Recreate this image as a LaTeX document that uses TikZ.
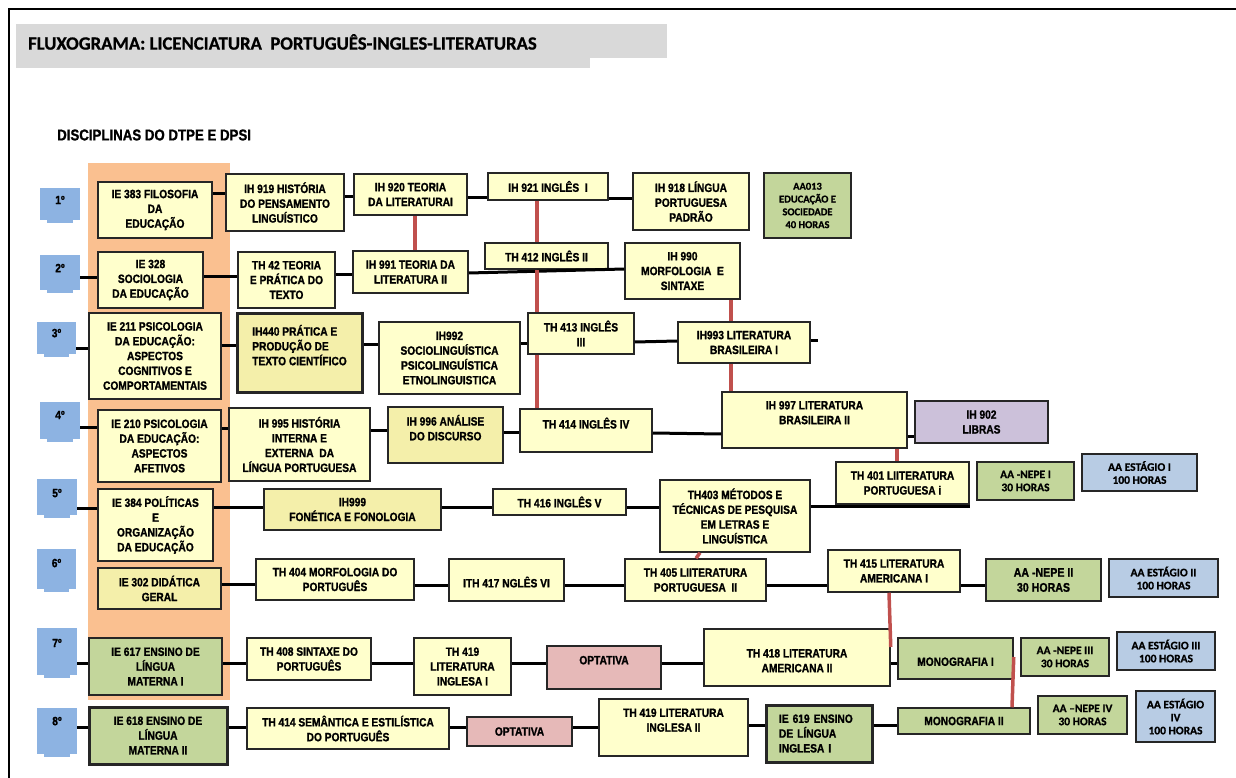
\documentclass[tikz,border=0pt]{standalone}
\usepackage{fontspec}
\setmainfont{Liberation Sans}[FakeStretch=0.85,BoldFeatures={FakeBold=1.2}]
\newfontfamily\calfont{Carlito}[BoldFeatures={FakeBold=0.8}]
\definecolor{amarelo}{HTML}{FFFFCC}
\definecolor{amarelod}{HTML}{F4EFAA}
\definecolor{verde}{HTML}{C3D69B}
\definecolor{azul}{HTML}{B8CCE4}
\definecolor{azulsem}{HTML}{8DB3E2}
\definecolor{laranja}{HTML}{FAC090}
\definecolor{rosa}{HTML}{E6B9B8}
\definecolor{lilas}{HTML}{CCC1DA}
\definecolor{vermelho}{HTML}{C0504D}
\definecolor{cinza}{HTML}{D9D9D9}
\definecolor{borda}{HTML}{262626}
\begin{document}
\begin{tikzpicture}[x=1pt,y=-1pt]
	\tikzstyle{every node}+=[inner sep=0pt,align=center,font=\fontsize{12}{14.8}\selectfont\bfseries]
	\tikzstyle{disc}=[draw=borda,line width=1.5pt,fill=amarelo]
	\tikzstyle{discd}=[disc,fill=amarelod]
	\tikzstyle{grosso}=[line width=3pt]
	\tikzstyle{aa}=[draw=borda,line width=1.5pt,font=\calfont\fontsize{11.5}{13}\selectfont\bfseries]
	\tikzstyle{sem}=[fill=azulsem]
	\tikzstyle{lig}=[line width=3pt]
	\tikzstyle{pre}=[line width=3.5pt,draw=vermelho]
	\useasboundingbox (0,0) rectangle (1236,778);
	\fill [cinza] (16,24) rectangle (667,58);
	\fill [cinza] (16,58) rectangle (590,68);
	\draw [line width=2pt] (9,778) -- (9,9) -- (1236,9);
	\node [anchor=west,font=\calfont\fontsize{18.7}{20}\selectfont\bfseries] (titulo) at (28,42) {FLUXOGRAMA: LICENCIATURA~ PORTUGUÊS-INGLES-LITERATURAS};
	\node [anchor=west,font=\fontsize{15.6}{18}\selectfont\bfseries] (dtpe) at (57,135) {DISCIPLINAS DO DTPE E DPSI};
	\fill [laranja] (88,163) rectangle (230,700);
	\node [sem,minimum width=40,minimum height=32,text depth=8] (s1) at (60,204) {1º};
	\node [sem,minimum width=40,minimum height=35,text depth=9] (s2) at (60,272.5) {2º};
	\node [sem,minimum width=39,minimum height=32,text depth=10] (s3) at (56.5,338) {3º};
	\node [sem,minimum width=40,minimum height=37,text depth=11] (s4) at (60,420.5) {4º};
	\node [sem,minimum width=40,minimum height=36,text depth=8] (s5) at (57,497) {5º};
	\node [sem,minimum width=39,minimum height=40,text depth=12] (s6) at (56.5,569) {6º};
	\node [sem,minimum width=40,minimum height=47,text depth=17] (s7) at (57,651.5) {7º};
	\node [sem,minimum width=40,minimum height=46,text depth=20] (s8) at (57,731) {8º};
	\foreach \i in {1,...,8}
		\fill [azulsem] ([xshift=7pt]s\i.south west) rectangle ([xshift=-7pt,yshift=-3pt]s\i.south east);
	\node [disc,minimum width=114,minimum height=56] (ie383) at (155,210) {IE 383 FILOSOFIA\\DA\\EDUCAÇÃO};
	\node [disc,minimum width=118,minimum height=57] (ih919) at (285,202.5) {IH 919 HISTÓRIA\\DO PENSAMENTO\\LINGUÍSTICO};
	\node [disc,minimum width=113,minimum height=41] (ih920) at (410.5,194.5) {IH 920 TEORIA\\DA LITERATURAI};
	\node [disc,minimum width=120,minimum height=27] (ih921) at (548,186.5) {IH 921 INGLÊS~ I};
	\node [disc,minimum width=116,minimum height=57] (ih918) at (691,201.5) {IH 918 LÍNGUA\\PORTUGUESA\\PADRÃO};
	\node [aa,fill=verde,minimum width=87,minimum height=65,font=\calfont\fontsize{10.5}{12.8}\selectfont\bfseries] (aa013) at (807.5,205.5) {AA013\\EDUCAÇÃO E\\SOCIEDADE\\40 HORAS};
	\node [disc,minimum width=105,minimum height=56] (ie328) at (150.5,280) {IE 328\\SOCIOLOGIA\\DA EDUCAÇÃO};
	\node [disc,minimum width=97,minimum height=56] (th42) at (286.5,280) {TH 42 TEORIA\\E PRÁTICA DO\\TEXTO};
	\node [disc,minimum width=115,minimum height=42] (ih991) at (410.5,272) {IH 991 TEORIA DA\\LITERATURA II};
	\node [disc,minimum width=123,minimum height=26] (th412) at (546.5,256) {TH 412 INGLÊS II};
	\node [disc,minimum width=115,minimum height=56] (ih990) at (682.5,271) {IH 990\\MORFOLOGIA~ E\\SINTAXE};
	\node [disc,minimum width=132,minimum height=86] (ie211) at (155,356) {IE 211 PSICOLOGIA\\DA EDUCAÇÃO:\\ASPECTOS\\COGNITIVOS E\\COMPORTAMENTAIS};
	\node [discd,grosso,align=left,minimum width=125,minimum height=79] (ih440) at (299.5,352.5) {IH440 PRÁTICA E\\PRODUÇÃO DE\\TEXTO CIENTÍFICO\\\mbox{}};
	\node [disc,minimum width=141,minimum height=72] (ih992) at (449.5,358) {IH992\\SOCIOLINGUÍSTICA\\PSICOLINGUÍSTICA\\ETNOLINGUISTICA};
	\node [disc,minimum width=106,minimum height=41] (th413) at (581,333.5) {TH 413 INGLÊS\\III};
	\node [disc,minimum width=132,minimum height=41] (ih993) at (744,342.5) {IH993 LITERATURA\\BRASILEIRA I};
	\node [disc,minimum width=123,minimum height=72] (ie210) at (159.5,446) {IE 210 PSICOLOGIA\\DA EDUCAÇÃO:\\ASPECTOS\\AFETIVOS};
	\node [disc,minimum width=141,minimum height=73] (ih995) at (299.5,444.5) {IH 995 HISTÓRIA\\INTERNA E\\EXTERNA~ DA\\LÍNGUA PORTUGUESA};
	\node [discd,minimum width=115,minimum height=56] (ih996) at (445.5,435) {IH 996 ANÁLISE\\DO DISCURSO\\\mbox{}};
	\node [disc,minimum width=132,minimum height=43] (th414) at (586,430.5) {TH 414 INGLÊS IV\\\mbox{}};
	\node [disc,minimum width=185,minimum height=56] (ih997) at (814.5,420) {IH 997 LITERATURA\\BRASILEIRA II\\\mbox{}};
	\node [disc,fill=lilas,minimum width=133,minimum height=42] (ih902) at (981.5,422) {IH 902\\LIBRAS};
	\node [disc,minimum width=115,minimum height=72] (ie384) at (155.5,525) {IE 384 POLÍTICAS\\E\\ORGANIZAÇÃO\\DA EDUCAÇÃO};
	\node [discd,minimum width=177,minimum height=41] (ih999) at (352.5,509.5) {IH999\\FONÉTICA E FONOLOGIA};
	\node [disc,minimum width=133,minimum height=26] (th416) at (559.5,502) {TH 416 INGLÊS V};
	\node [disc,minimum width=150,minimum height=72] (th403) at (735,516) {TH403 MÉTODOS E\\TÉCNICAS DE PESQUISA\\EM LETRAS E\\LINGUÍSTICA};
	\node [disc,minimum width=133,minimum height=42] (th401) at (902.5,483) {TH 401 LIITERATURA\\PORTUGUESA i};
	\node [aa,fill=verde,minimum width=97,minimum height=38] (nepe1) at (1025.5,481) {AA -NEPE I\\30 HORAS};
	\node [aa,fill=azul,minimum width=115,minimum height=37] (est1) at (1139.5,472.5) {AA ESTÁGIO I\\100 HORAS};
	\node [discd,minimum width=123,minimum height=41] (ie302) at (159.5,588.5) {IE 302 DIDÁTICA\\GERAL};
	\node [disc,minimum width=158,minimum height=41] (th404) at (335,579.5) {TH 404 MORFOLOGIA DO\\PORTUGUÊS};
	\node [disc,minimum width=115,minimum height=42] (ith417) at (506.5,580) {\mbox{}\\ITH 417 NGLÊS VI};
	\node [disc,minimum width=141,minimum height=42] (th405) at (695.5,580) {TH 405 LIITERATURA\\PORTUGUESA~ II};
	\node [disc,minimum width=132,minimum height=42] (th415) at (894,571) {TH 415 LITERATURA\\AMERICANA I};
	\node [aa,fill=verde,minimum width=115,minimum height=42,font=\fontsize{12.5}{15}\selectfont\bfseries] (nepe2) at (1043.5,580) {AA -NEPE II\\30 HORAS};
	\node [aa,fill=azul,minimum width=109,minimum height=38] (est2) at (1163.5,578) {AA ESTÁGIO II\\100 HORAS};
	\node [disc,fill=verde,minimum width=133,minimum height=57] (ie617) at (155.5,666.5) {IE 617 ENSINO DE\\LÍNGUA\\MATERNA I};
	\node [disc,minimum width=124,minimum height=42] (th408) at (309,659) {TH 408 SINTAXE DO\\PORTUGUÊS};
	\node [disc,minimum width=97,minimum height=57] (th419) at (462.5,666.5) {TH 419\\LITERATURA\\INGLESA I};
	\node [disc,fill=rosa,minimum width=114,minimum height=43] (opt1) at (604,667.5) {OPTATIVA\\\mbox{}};
	\node [disc,minimum width=186,minimum height=57] (th418) at (797,657.5) {\mbox{}\\TH 418 LITERATURA\\AMERICANA II};
	\node [disc,fill=verde,minimum width=115,minimum height=41] (mono1) at (955.5,658.5) {\mbox{}\\MONOGRAFIA I};
	\node [aa,fill=verde,minimum width=88,minimum height=38] (nepe3) at (1065,657) {AA -NEPE III\\30 HORAS};
	\node [aa,fill=azul,minimum width=98,minimum height=38] (est3) at (1166,651) {AA ESTÁGIO III\\100 HORAS};
	\node [disc,grosso,fill=verde,minimum width=138,minimum height=57] (ie618) at (158,735.5) {IE 618 ENSINO DE\\LÍNGUA\\MATERNA II};
	\node [disc,minimum width=202,minimum height=41] (th414s) at (348,728.5) {TH 414 SEMÂNTICA E ESTILÍSTICA\\DO PORTUGUÊS};
	\node [disc,fill=rosa,minimum width=105,minimum height=29] (opt2) at (519.5,731.5) {OPTATIVA};
	\node [disc,minimum width=149,minimum height=57] (th419ii) at (673.5,727.5) {TH 419 LITERATURA\\INGLESA II\\\mbox{}};
	\node [disc,grosso,fill=verde,align=left,text width=80,minimum width=106,minimum height=57] (ie619) at (819,733.5) {IE 619 ENSINO\\DE LÍNGUA\\INGLESA I};
	\node [disc,fill=verde,minimum width=132,minimum height=26] (mono2) at (964,721) {MONOGRAFIA II};
	\node [aa,fill=verde,minimum width=89,minimum height=38] (nepe4) at (1082.5,715) {AA –NEPE IV\\30 HORAS};
	\node [aa,fill=azul,minimum width=79,minimum height=51] (est4) at (1175.5,716.5) {AA ESTÁGIO\\IV\\100 HORAS};
	\draw [lig] (ie383.east |- 0,194) -- (ih919.west |- 0,194);
	\draw [lig] (ih919.east |- 0,197) -- (ih920.west |- 0,197);
	\draw [lig] (ih920.east |- 0,198) -- (ih921.west |- 0,198);
	\draw [lig] (ih921.east |- 0,199) -- (ih918.west |- 0,199);
	\draw [lig] (s2.east |- 0,277) -- (ie328.west |- 0,277);
	\draw [lig] (ie328.east |- 0,276) -- (th42.west |- 0,276);
	\draw [lig] (th42.east |- 0,274) -- (ih991.west |- 0,274);
	\draw [lig] (ih991.east |- 0,273) -- (ih990.west |- 0,269);
	\draw [lig] (s3.east |- 0,348) -- (ie211.west |- 0,348);
	\draw [lig] (ie211.east |- 0,345) -- (ih440.west |- 0,345);
	\draw [lig] (ih440.east |- 0,344) -- (ih992.west |- 0,344);
	\draw [lig] (ih992.east |- 0,343) -- (th413.west |- 0,343);
	\draw [lig] (th413.east |- 0,342) -- (ih993.west |- 0,341);
	\coordinate (fim3) at (818,340);
	\draw [lig] (ih993.east |- fim3) -- (fim3);
	\draw [lig] (s4.east |- 0,427) -- (ie210.west |- 0,427);
	\draw [lig] (ie210.east |- 0,428) -- (ih995.west |- 0,428);
	\draw [lig] (ih995.east |- 0,430) -- (ih996.west |- 0,430);
	\draw [lig] (ih996.east |- 0,432) -- (th414.west |- 0,432);
	\draw [lig] (th414.east |- 0,433) -- (ih997.west |- 0,434);
	\draw [lig] (ih997.east |- 0,436) -- (ih902.west |- 0,436);
	\draw [lig] (s5.east |- 0,508) -- (ie384.west |- 0,508);
	\draw [lig] (ie384.east |- 0,507) -- (ih999.west |- 0,507);
	\draw [lig] (ih999.east |- 0,507) -- (th416.west |- 0,507);
	\draw [lig] (th416.east |- 0,507) -- (th403.west |- 0,507);
	\draw [lig] (th403.east |- 0,506) -- (th401.east |- 0,506);
	\draw [lig] (ie302.east |- 0,584) -- (th404.west |- 0,584);
	\draw [lig] (th404.east |- 0,585) -- (ith417.west |- 0,585);
	\draw [lig] (ith417.east |- 0,585) -- (th405.west |- 0,585);
	\draw [lig] (th405.east |- 0,585) -- (th415.west |- 0,585);
	\draw [lig] (th415.east |- 0,585) -- (nepe2.west |- 0,585);
	\draw [lig] (s7.east |- 0,663) -- (ie617.west |- 0,663);
	\draw [lig] (ie617.east |- 0,663) -- (th408.west |- 0,663);
	\draw [lig] (th408.east |- 0,663) -- (th419.west |- 0,663);
	\draw [lig] (th419.east |- 0,663) -- (opt1.west |- 0,663);
	\draw [lig] (opt1.east |- 0,663) -- (th418.west |- 0,663);
	\draw [lig] (th418.east |- 0,663) -- (mono1.west |- 0,663);
	\draw [lig] (s8.east |- 0,727) -- (ie618.west |- 0,727);
	\draw [lig] (ie618.east |- 0,727) -- (th414s.west |- 0,727);
	\draw [lig] (th414s.east |- 0,727) -- (opt2.west |- 0,727);
	\draw [lig] (opt2.east |- 0,727) -- (th419ii.west |- 0,727);
	\draw [lig] (th419ii.east |- 0,725) -- (ie619.west |- 0,725);
	\draw [lig] (ie619.east |- 0,725) -- (mono2.west |- 0,725);
	\draw [pre] (ih920.south -| 415,0) -- (ih991.north -| 415,0);
	\draw [pre] (ih921.south -| 537,0) -- (th412.north -| 537,0);
	\draw [pre] (th412.south -| 537,0) -- (th413.north -| 537,0);
	\draw [pre] (th413.south -| 537,0) -- (th414.north -| 537,0);
	\draw [pre] (ih990.south -| 731,0) -- (ih993.north -| 731,0);
	\draw [pre] (ih993.south -| 731,0) -- (ih997.north -| 731,0);
	\draw [pre] (ih997.south -| 897,0) -- (th401.north -| 897,0);
	\draw [pre] (th403.south -| 700,0) -- (th405.north -| 696,0);
	\draw [pre] (th415.south -| 889,0) -- (th418.east |- 0,647);
	\draw [pre] (mono1.east |- 0,657) -- (mono2.north -| 1012,0);
\end{tikzpicture}
\end{document}
